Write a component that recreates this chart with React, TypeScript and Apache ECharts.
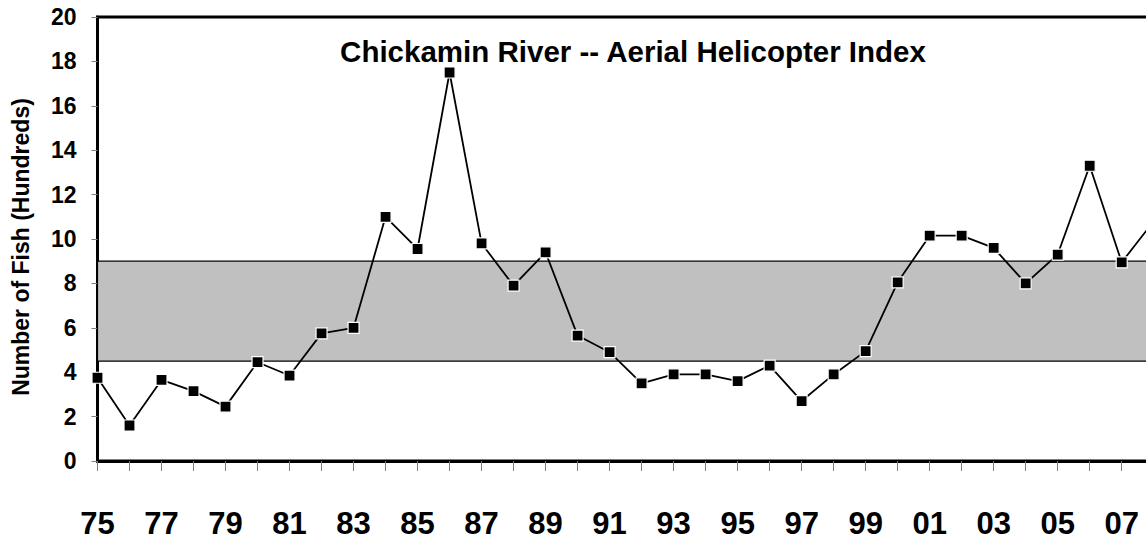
import React, { useEffect, useRef } from "react";
import * as echarts from "echarts";

const years = ["75","76","77","78","79","80","81","82","83","84","85","86","87","88","89","90","91","92","93","94","95","96","97","98","99","00","01","02","03","04","05","06","07","08"];
const fishHundreds = [3.75,1.6,3.65,3.15,2.45,4.45,3.85,5.75,6.0,11.0,9.55,17.5,9.8,7.9,9.4,5.65,4.9,3.5,3.9,3.9,3.6,4.3,2.7,3.9,4.95,8.05,10.15,10.15,9.6,8.0,9.3,13.3,8.95,10.8];
const bandLow = 4.5;
const bandHigh = 9;
const titleText = "Chickamin River -- Aerial Helicopter Index";
const yAxisName = "Number of Fish (Hundreds)";

const FONT = 'Arial, "Liberation Sans", sans-serif';
const CHART_W = 1170;

export default function App() {
  const ref = useRef<HTMLDivElement>(null);
  useEffect(() => {
    if (!ref.current) return;
    const chart = echarts.init(ref.current, undefined, { renderer: "svg" });
    chart.setOption({
      animation: false,
      backgroundColor: "#ffffff",
      title: {
        text: titleText,
        left: 628,
        top: 31,
        textAlign: "center",
        textStyle: { fontFamily: FONT, fontWeight: "bold", fontSize: 29.5, color: "#000" },
      },
      grid: {
        left: 97.5,
        right: CHART_W - 1153.7,
        top: 17,
        bottom: 82,
        show: true,
        borderColor: "#000",
        borderWidth: 3,
        backgroundColor: "transparent",
      },
      xAxis: {
        type: "category",
        data: years,
        boundaryGap: false,
        axisLine: { show: true, lineStyle: { color: "#000", width: 3 } },
        axisTick: { show: true, interval: 0, length: 10, lineStyle: { color: "#808080", width: 1 } },
        axisLabel: {
          interval: 1,
          margin: 47,
          fontFamily: FONT,
          fontWeight: "bold",
          fontSize: 31,
          color: "#000",
        },
        splitLine: { show: false },
      },
      yAxis: {
        type: "value",
        min: 0,
        max: 20,
        interval: 2,
        name: yAxisName,
        nameLocation: "middle",
        nameGap: 65,
        nameRotate: 90,
        nameTextStyle: {
          fontFamily: FONT,
          fontWeight: "bold",
          fontSize: 23,
          color: "#000",
          padding: [0, 16, 0, 0],
        },
        axisLine: { show: true, lineStyle: { color: "#000", width: 3 } },
        axisTick: { show: true, length: 6, lineStyle: { color: "#808080", width: 1 } },
        axisLabel: {
          margin: 21,
          fontFamily: FONT,
          fontWeight: "bold",
          fontSize: 23,
          color: "#000",
        },
        splitLine: { show: false },
      },
      series: [
        {
          type: "line",
          data: fishHundreds,
          symbol: "rect",
          symbolSize: 11,
          showAllSymbol: true,
          lineStyle: { color: "#000", width: 1.8 },
          itemStyle: { color: "#000", borderColor: "#fff", borderWidth: 1.2 },
          markArea: {
            silent: true,
            itemStyle: { color: "#c0c0c0", borderColor: "#000", borderWidth: 1.2 },
            data: [[{ yAxis: bandLow }, { yAxis: bandHigh }]],
          },
          z: 3,
        },
      ],
    });
    return () => chart.dispose();
  }, []);
  return (
    <div
      style={{ position: "absolute", left: 0, top: 0, width: 1146, height: 543, overflow: "hidden" }}
    >
      <div ref={ref} style={{ width: CHART_W, height: 543 }} />
    </div>
  );
}
